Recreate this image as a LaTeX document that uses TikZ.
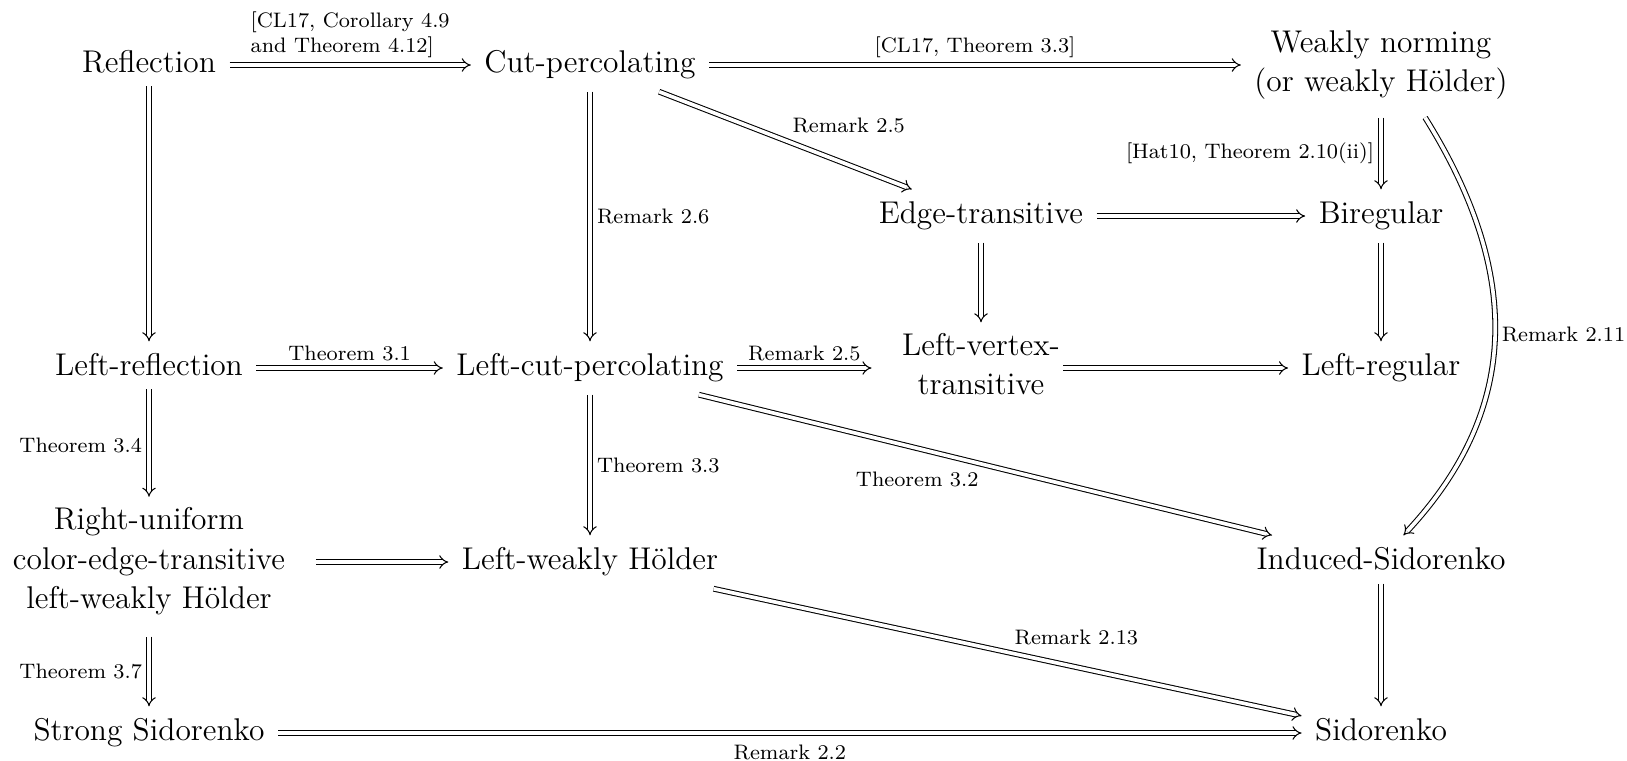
\documentclass[tikz,border=0pt]{standalone}
\usetikzlibrary{arrows.meta}
\newcommand\mydepthrule[1]{\rule[-#1]{0pt}{#1}}
\begin{document}
\begin{tikzpicture}[x=0.3817pt,y=0.3817pt,
  cell/.style={inner xsep=5pt, inner ysep=4pt, text height=9pt, text depth=3pt, font=\fontsize{12}{15}\selectfont},
  mcell/.style={inner xsep=5pt, inner ysep=4pt, align=center, font=\fontsize{12}{15}\selectfont},
  imp/.style={double, double distance=1.4pt, line width=0.4pt, -{Implies[scale=1.2]}},
  lab/.style={font=\fontsize{8}{9.5}\selectfont, inner sep=2.5pt}]
\useasboundingbox (0,0) rectangle (1627,-760);
% nodes
\node[cell] (ref) at (149,-65) {Reflection};
\node[cell] (cp) at (590,-65) {Cut-percolating};
\node[mcell] (wn) at (1381,-65) {\rule{0pt}{11pt}Weakly norming\\(or weakly Hölder)\mydepthrule{5.7pt}};
\node[cell] (et) at (981,-216) {Edge-transitive};
\node[cell] (bi) at (1381,-216) {Biregular};
\node[cell] (lr) at (149,-368) {Left-reflection};
\node[cell] (lc) at (590,-368) {Left-cut-percolating};
\node[mcell, inner xsep=1pt] (lvt) at (981,-368) {Left-vertex-\\transitive\mydepthrule{3pt}};
\node[cell] (lreg) at (1381,-368) {Left-regular};
\node[mcell, inner xsep=11.6pt] (ru) at (149,-566.6) {Right-uniform\\color-edge-transitive\\left-weakly Hölder\mydepthrule{6.5pt}};
\node[cell] (lw) at (590,-562) {Left-weakly Hölder};
\node[cell] (is) at (1381,-562) {Induced-Sidorenko};
\node[cell] (ss) at (149,-733) {Strong Sidorenko};
\node[cell] (si) at (1381,-733) {Sidorenko};
\coordinate (lvtin) at ([xshift=-10.5pt]lvt.west);
\coordinate (ruout) at (ru.east |- lw);
% arrows
\draw[imp] (ref) -- node[lab, above, align=left] {[CL17, Corollary 4.9\\and Theorem 4.12]} (cp);
\draw[imp] (cp) -- node[lab, above] {[CL17, Theorem 3.3]} (wn);
\draw[imp] (cp) -- node[lab, above right] {Remark 2.5} (et);
\draw[imp] (cp) -- node[lab, right] {Remark 2.6} (lc);
\draw[imp] (wn) -- node[lab, left] {[Hat10, Theorem 2.10(ii)]} (bi);
\draw[imp] (et) -- (bi);
\draw[imp] (et) -- (lvt);
\draw[imp] (bi) -- (lreg);
\draw[imp] (wn.-50) .. controls +(-58:177) and +(47:177) .. node[lab, right] {Remark 2.11} (is.50);
\draw[imp, shorten <=-2pt] (ref) -- (lr);
\draw[imp] (lr) -- node[lab, above] {Theorem 3.1} (lc);
\draw[imp] (lc) -- node[lab, above] {Remark 2.5} (lvtin);
\draw[imp] (lvt) -- (lreg);
\draw[imp] (lc) -- node[lab, below left] {Theorem 3.2} (is);
\draw[imp, shorten <=-2pt] (lr) -- node[lab, left] {Theorem 3.4} (ru);
\draw[imp] (lc) -- node[lab, right] {Theorem 3.3} (lw);
\draw[imp] (ruout) -- (lw);
\draw[imp] (lw) -- node[lab, above right] {Remark 2.13} (si);
\draw[imp, shorten <=-2pt] (is) -- (si);
\draw[imp] (ru) -- node[lab, left] {Theorem 3.7} (ss);
\draw[imp] (ss) -- node[lab, below=2pt] {Remark 2.2} (si);
\end{tikzpicture}
\end{document}
